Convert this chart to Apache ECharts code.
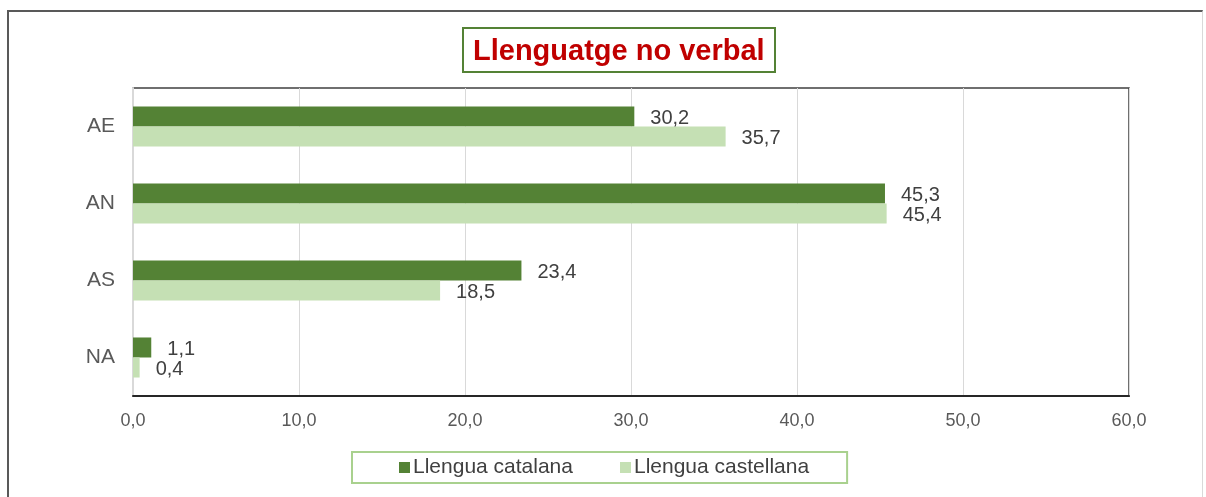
<!DOCTYPE html>
<html>
<head>
<meta charset="utf-8">
<script src="https://cdn.jsdelivr.net/npm/echarts@6/dist/echarts.min.js"></script>
<style>
html,body{margin:0;padding:0;background:#fff;}
#frame{position:absolute;left:7px;top:10px;width:1196px;height:500px;border-left:2px solid #595959;border-top:2px solid #595959;border-right:1px solid #d9d9d9;box-sizing:border-box;}
#chart{position:absolute;left:0;top:0;width:1206px;height:497px;}
</style>
</head>
<body>
<div id="frame"></div>
<div id="chart"></div>
<script>
const categories = ['AE', 'AN', 'AS', 'NA'];
const seriesNames = ['Llengua catalana', 'Llengua castellana'];
const catalana = [30.2, 45.3, 23.4, 1.1];
const castellana = [35.7, 45.4, 18.5, 0.4];
const xTicks = [0, 10, 20, 30, 40, 50, 60];

const fmt = v => Number(v).toFixed(1).replace('.', ',');
const font = '"Liberation Sans", Arial, sans-serif';

const chart = echarts.init(document.getElementById('chart'), null, {renderer: 'canvas'});
chart.setOption({
  animation: false,
  textStyle: {fontFamily: font},
  title: {
    text: 'Llenguatge no verbal',
    left: 463, top: 28,
    padding: [9, 11, 6, 10],
    borderColor: '#548235', borderWidth: 2,
    textStyle: {color: '#C00000', fontSize: 29, fontWeight: 'bold', fontFamily: font}
  },
  legend: {
    data: seriesNames,
    left: 352, top: 452,
    padding: [5, 38, 5, 47],
    itemGap: 47,
    itemWidth: 11, itemHeight: 11,
    icon: 'rect',
    borderColor: '#A9D18E', borderWidth: 2,
    textStyle: {fontSize: 21, color: '#404040', fontFamily: font, padding: [0, 0, 0, -2]}
  },
  grid: {
    left: 133, right: 77, top: 88, bottom: 101,
    show: true, borderColor: '#404040', borderWidth: 1.5,
    containLabel: false
  },
  xAxis: {
    type: 'value',
    min: xTicks[0], max: xTicks[xTicks.length - 1], interval: 10,
    axisLine: {show: true, lineStyle: {color: '#262626', width: 2}},
    axisTick: {show: false},
    splitLine: {show: true, lineStyle: {color: '#d9d9d9', width: 1}},
    axisLabel: {formatter: fmt, fontSize: 18, color: '#595959', margin: 16, fontFamily: font}
  },
  yAxis: {
    type: 'category',
    data: categories,
    inverse: true,
    axisLine: {show: true, lineStyle: {color: '#d9d9d9', width: 2}},
    axisTick: {show: false},
    axisLabel: {fontSize: 21, color: '#595959', margin: 18, fontFamily: font, padding: [4, 0, 0, 0]}
  },
  series: [
    {
      name: seriesNames[0], type: 'bar', data: catalana,
      itemStyle: {color: '#548235'},
      barGap: '0%', barCategoryGap: '48%',
      label: {show: true, position: 'right', distance: 16, offset: [0, 2], formatter: p => fmt(p.value), fontSize: 20, color: '#404040', fontFamily: font}
    },
    {
      name: seriesNames[1], type: 'bar', data: castellana,
      itemStyle: {color: '#C5E0B4'},
      barGap: '0%', barCategoryGap: '48%',
      label: {show: true, position: 'right', distance: 16, offset: [0, 2], formatter: p => fmt(p.value), fontSize: 20, color: '#404040', fontFamily: font}
    }
  ]
});
</script>
</body>
</html>
